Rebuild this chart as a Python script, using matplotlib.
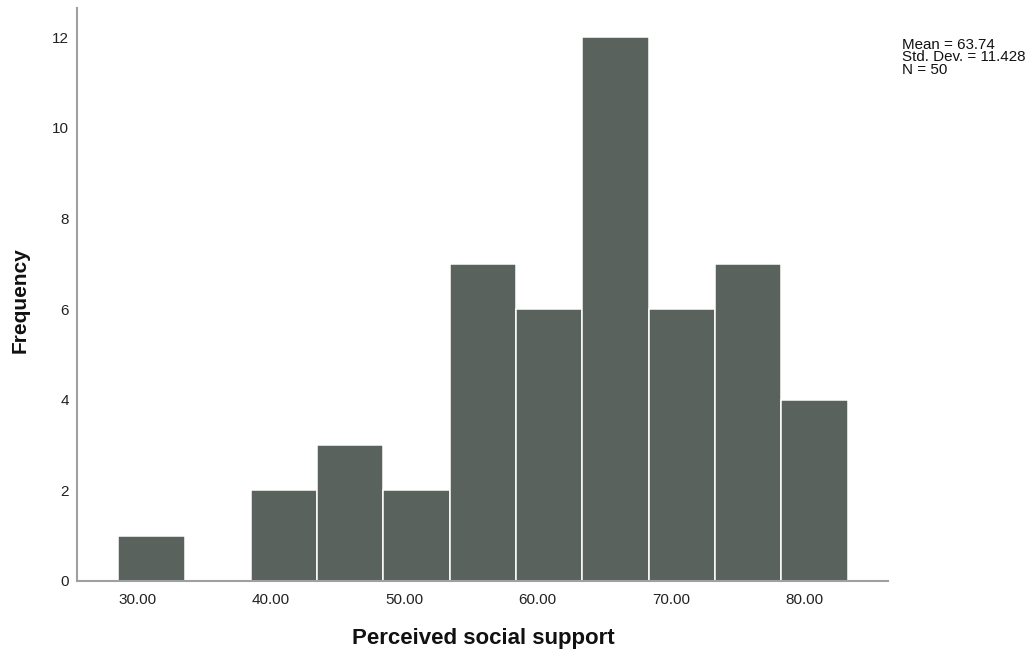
import numpy as np
import matplotlib
matplotlib.use("Agg")
import matplotlib.pyplot as plt

plt.rcParams["font.family"] = ["Liberation Sans", "DejaVu Sans"]

# binned scores (bin width ~5) and their counts
bin_start = 28.55
bin_width = 4.97
counts = [1, 0, 2, 3, 2, 7, 6, 12, 6, 7, 4]
x_ticks = [30, 40, 50, 60, 70, 80]
y_ticks = [0, 2, 4, 6, 8, 10, 12]
stats_text = "Mean = 63.74\nStd. Dev. = 11.428\nN = 50"

bar_color = "#59625c"
axis_color = "#a0a0a0"

edges = bin_start + bin_width * np.arange(len(counts) + 1)

fig = plt.figure(figsize=(10.3, 6.6), dpi=100)
ax = fig.add_axes([0.0748, 0.1197, 0.7874, 0.8683])

for i, c in enumerate(counts):
    if c > 0:
        ax.bar(edges[i], c, width=bin_width, align="edge",
               color=bar_color, edgecolor="white", linewidth=1.1)

ax.set_xlim(25.46, 86.26)
ax.set_ylim(0, 12.65)
ax.set_xticks(x_ticks)
ax.set_xticklabels([f"{t:.2f}" for t in x_ticks])
ax.set_yticks(y_ticks)

ax.tick_params(axis="both", length=0, labelsize=11, labelcolor="#222222")
ax.tick_params(axis="x", pad=9)
ax.tick_params(axis="y", pad=6)

for side in ("top", "right"):
    ax.spines[side].set_visible(False)
for side in ("left", "bottom"):
    ax.spines[side].set_color(axis_color)
    ax.spines[side].set_linewidth(1.5)

fig.text(0.4689, 0.033, "Perceived social support", ha="center", va="center",
         fontsize=16, fontweight="bold", color="#111111")
fig.text(0.0195, 0.545, "Frequency", ha="center", va="center", rotation=90,
         fontsize=15, fontweight="bold", color="#111111")

fig.text(0.8755, 0.943, stats_text, ha="left", va="top", fontsize=10.9,
         linespacing=0.88, color="#111111")

fig.savefig("out.png", dpi=100)
